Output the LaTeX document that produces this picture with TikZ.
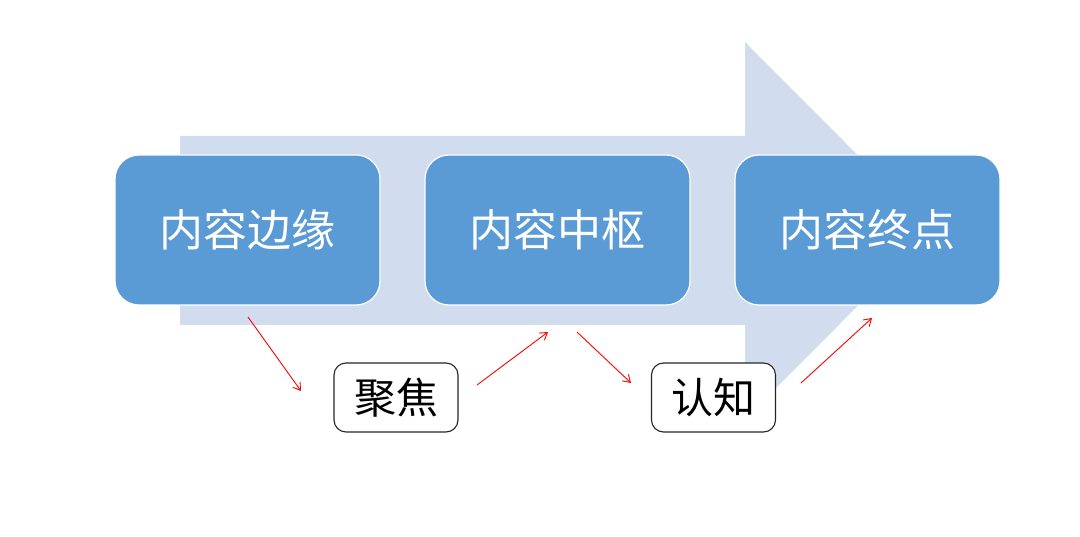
\documentclass[tikz,border=0pt]{standalone}
\usepackage{fontspec}
\newfontfamily\cjk{Noto Sans CJK SC}
\usetikzlibrary{arrows.meta}
\definecolor{bigarrow}{HTML}{D1DDEE}
\definecolor{boxblue}{HTML}{5B9BD5}
\tikzset{
  stagebox/.style={draw=white, line width=1.2pt, fill=boxblue, rounded corners=24pt,
    minimum width=265pt, minimum height=150pt, inner sep=0pt, text=white,
    font=\cjk\fontsize{44}{50}\selectfont},
  labelbox/.style={draw=black!85, line width=1.1pt, fill=white, rounded corners=12pt,
    minimum width=124pt, minimum height=69pt, inner sep=0pt, text=black,
    font=\cjk\fontsize{42}{48}\selectfont},
  redarrow/.style={draw=red, line width=0.9pt, -{Straight Barb[length=7pt,width=9pt]}}
}
\begin{document}
\begin{tikzpicture}[x=1pt,y=-1pt]
\useasboundingbox (0,0) rectangle (1080,537);
\fill[white] (0,0) rectangle (1080,537);
% big background arrow
\fill[bigarrow] (180,136) -- (745,136) -- (745,42) -- (933,230.5) -- (745,419) -- (745,325) -- (180,325) -- cycle;
% stage boxes
\node[stagebox] (edge) at (247.5,230) {内容边缘};
\node[stagebox] (hub) at (557.5,230) {内容中枢};
\node[stagebox] (end) at (867.5,230) {内容终点};
% label boxes
\node[labelbox] (focus) at (396,397.5) {聚焦};
\node[labelbox] (cog) at (713.5,397.5) {认知};
% red arrows
\coordinate (a1s) at (248,317); \coordinate (a1e) at (301,391);
\coordinate (a2s) at (477,385); \coordinate (a2e) at (548,332);
\coordinate (a3s) at (577,332); \coordinate (a3e) at (631,383);
\coordinate (a4s) at (801,383); \coordinate (a4e) at (872,318);
\draw[redarrow] (a1s) -- (a1e);
\draw[redarrow] (a2s) -- (a2e);
\draw[redarrow] (a3s) -- (a3e);
\draw[redarrow] (a4s) -- (a4e);
\end{tikzpicture}
\end{document}
